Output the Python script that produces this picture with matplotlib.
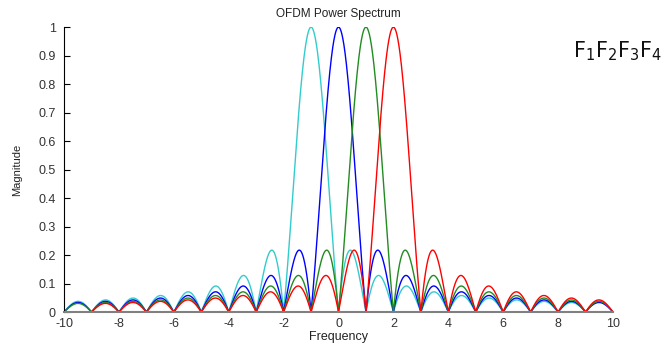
import numpy as np
import matplotlib
matplotlib.use("Agg")
import matplotlib.pyplot as plt

# subcarrier centre frequencies and plot colours
centers = [-1, 0, 1, 2]
colors = ["#33CCCC", "#0000FF", "#228B22", "#FF0000"]
# each subcarrier is evaluated over [center + win_lo, center + win_hi], zero elsewhere
win_lo = -11
win_hi = 10

freq = np.arange(-10, 10.001, 0.01)

plt.rcParams["font.family"] = ["Liberation Sans", "DejaVu Sans"]
plt.rcParams["axes.unicode_minus"] = False
plt.rcParams["mathtext.default"] = "regular"

fig = plt.figure(figsize=(6.62, 3.48), dpi=100)
ax = fig.add_axes([0.0967, 0.1034, 0.8293, 0.8186])

for c, col in zip(centers, colors):
    mag = np.abs(np.sinc(freq - c))
    mag[(freq < c + win_lo) | (freq > c + win_hi)] = 0
    ax.plot(freq, mag, color=col, lw=1.0)

ax.set_xlim(-10, 10)
ax.set_ylim(0, 1)
ax.set_xticks(np.arange(-10, 11, 2))
ax.set_yticks(np.arange(0, 1.01, 0.1))
ax.set_yticklabels(["0", "0.1", "0.2", "0.3", "0.4", "0.5", "0.6", "0.7", "0.8", "0.9", "1"])

ax.spines["top"].set_visible(False)
ax.spines["right"].set_visible(False)
ax.spines["bottom"].set_color("#808080")
ax.spines["bottom"].set_linewidth(1.5)
ax.tick_params(axis="x", length=0, labelsize=9, pad=4, labelcolor="#333333")
ax.tick_params(axis="y", direction="in", length=4, labelsize=9, pad=6, labelcolor="#333333")

ax.set_title("OFDM Power Spectrum", fontsize=8.5, pad=7, color="#222222")
ax.set_xlabel("Frequency", fontsize=9, labelpad=1, color="#222222")
ax.set_ylabel("Magnitude", fontsize=8, labelpad=12, color="#222222", fontstretch="condensed")

fig.text(0.865, 0.835, "F$_1$F$_2$F$_3$F$_4$", fontsize=15, family="DejaVu Sans",
         color="#111111")

fig.savefig("out.png", dpi=100)
